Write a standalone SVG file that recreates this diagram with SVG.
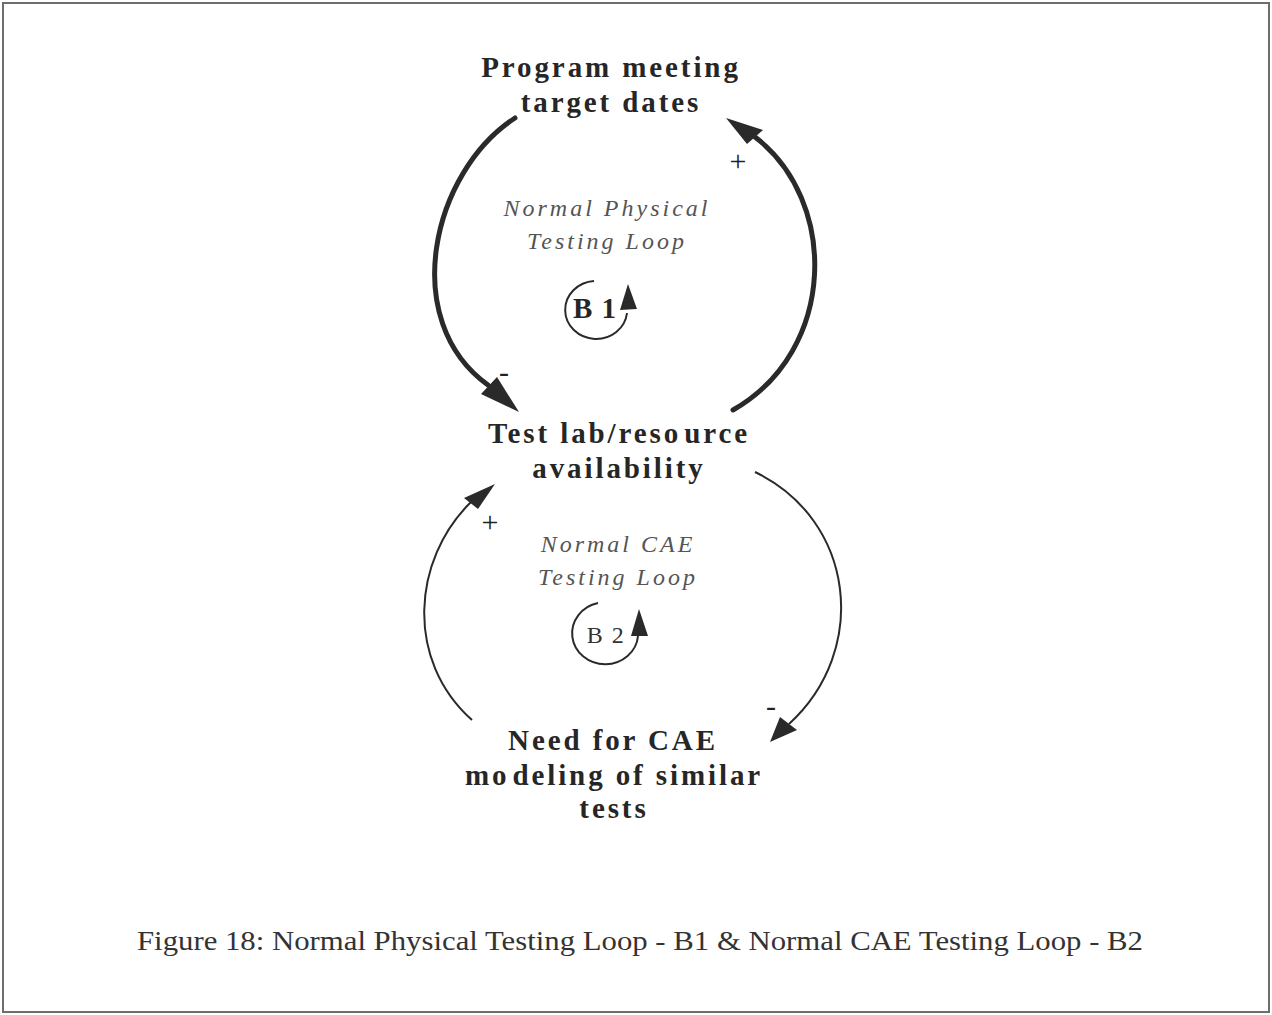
<svg xmlns="http://www.w3.org/2000/svg" width="1272" height="1015" viewBox="0 0 1272 1015">
  <style>
    .node { font-family: "Liberation Serif", "Times New Roman", serif; font-weight: bold; font-size: 29px; fill: #262626; letter-spacing: 2.9px; text-anchor: middle; }
    .loop { font-family: "Liberation Serif", "Times New Roman", serif; font-style: italic; font-size: 24px; fill: #555; letter-spacing: 3px; text-anchor: middle; }
    .sign { font-family: "Liberation Serif", "Times New Roman", serif; font-size: 30px; fill: #222; text-anchor: middle; }
    .caption { font-family: "Liberation Serif", "Times New Roman", serif; font-size: 27px; fill: #333; }
    .thick { fill: none; stroke: #2a2a2a; stroke-width: 5; stroke-linecap: round; }
    .thin { fill: none; stroke: #2a2a2a; stroke-width: 2; }
    .head { fill: #2a2a2a; }
  </style>

  <!-- frame -->
  <rect x="3" y="3" width="1266" height="1009" fill="#fff" stroke="#6e6e6e" stroke-width="2"/>

  <!-- variables -->
  <g id="program-meeting-target-dates">
    <text class="node" x="611" y="77">Program meeting</text>
    <text class="node" x="611" y="112">target dates</text>
  </g>
  <g id="test-lab-resource-availability">
    <text class="node" x="619" y="443">Test lab/reso<tspan dx="3">urce</tspan></text>
    <text class="node" x="619" y="478">availability</text>
  </g>
  <g id="need-for-cae-modeling">
    <text class="node" x="613" y="750">Need for CAE</text>
    <text class="node" x="614" y="785">mo<tspan dx="3">deling of similar</tspan></text>
    <text class="node" x="614" y="818">tests</text>
  </g>

  <!-- loop labels -->
  <g id="loop-b1">
    <text class="loop" x="607" y="216">Normal Physical</text>
    <text class="loop" x="607" y="249">Testing Loop</text>
    <path class="thin" d="M594,281 A31,29 0 1 0 627,313"/>
    <polygon class="head" points="628,284 620,310 637,309"/>
    <text class="node" x="595" y="318" style="letter-spacing:1px">B 1</text>
  </g>
  <g id="loop-b2">
    <text class="loop" x="618" y="552">Normal CAE</text>
    <text class="loop" x="618" y="585">Testing Loop</text>
    <path class="thin" d="M598,603 A33,31 0 1 0 638,636"/>
    <polygon class="head" points="639,609 631,636 648,636"/>
    <text x="606" y="643" style="font-family:'Liberation Serif','Times New Roman',serif;font-size:24px;fill:#333;text-anchor:middle;letter-spacing:1.5px">B 2</text>
  </g>

  <!-- causal links -->
  <g id="connectors">
    <path class="thick" d="M515,118 C432,172 398,320 488,385"/>
    <polygon class="head" points="519,412 481,394 497,377"/>
    <text class="sign" x="504" y="382">-</text>

    <path class="thick" d="M733,410 C838,350 838,200 755,137"/>
    <polygon class="head" points="726,118 747,144 763,130"/>
    <text class="sign" x="738" y="171">+</text>

    <path class="thin" d="M472,720 C405,660 412,560 471,502"/>
    <polygon class="head" points="495,484 464,498 478,509"/>
    <text class="sign" x="490" y="532">+</text>

    <path class="thin" d="M755,472 C855,520 870,650 789,724"/>
    <polygon class="head" points="770,742 780,717 797,730"/>
    <text class="sign" x="771" y="716">-</text>
  </g>

  <text class="caption" x="137" y="950" textLength="1006" lengthAdjust="spacingAndGlyphs">Figure 18: Normal Physical Testing Loop - B1 &amp; Normal CAE Testing Loop - B2</text>
</svg>
